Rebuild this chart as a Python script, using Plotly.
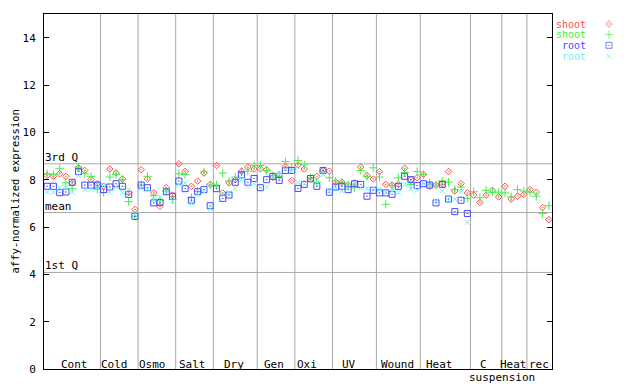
import plotly.graph_objects as go

# ---------------- data ----------------
group_labels = ["Cont", "Cold", "Osmo", "Salt", "Dry", "Gen", "Oxi", "UV",
                "Wound", "Heat", "C", "Heat", "rec"]
group_sizes = [9, 6, 6, 6, 7, 6, 6, 7, 7, 8, 5, 4, 4]

shoot_rep1 = [8.18, 8.14, 8.25, 8.14, 7.86, 8.50, 8.39, 8.00, 7.83,
              7.72, 8.45, 8.28, 8.03, 7.45, 6.74,
              8.42, 8.03, 7.44, 6.87, 7.66, 7.35,
              8.67, 8.35, 7.72, 7.94, 8.28, 7.80,
              8.60, 7.44, 7.86, 8.00, 8.36, 8.53, 8.45,
              8.46, 8.42, 8.10, 8.20, 8.56, 7.97,
              8.62, 8.45, 8.00, 8.14, 8.39, 8.36,
              7.89, 7.89, 7.77, 7.86, 8.53, 8.17, 8.03,
              8.34, 7.80, 7.77, 7.80, 8.48, 8.00, 8.08,
              8.22, 7.72, 7.77, 7.83, 8.34, 7.52, 7.83, 7.44,
              7.35, 7.04, 7.35, 7.55, 7.27,
              7.72, 7.18, 7.30, 7.38,
              7.58, 7.47, 6.82, 6.31]
shoot_rep2 = [8.25, 8.22, 8.46, 7.87, 7.62, 8.53, 8.25, 8.14, 7.60,
              7.46, 8.11, 8.22, 8.00, 7.07, 6.45,
              7.77, 8.14, 7.32, 7.13, 7.52, 7.16,
              8.25, 8.22, 7.24, 7.50, 8.33, 7.77,
              7.77, 8.28, 7.94, 8.11, 8.34, 8.36, 8.59,
              8.60, 8.39, 8.17, 8.14, 8.76, 8.50,
              8.81, 8.62, 8.08, 7.89, 8.36, 8.08,
              7.94, 7.89, 7.77, 7.66, 8.39, 8.14, 8.50,
              8.11, 6.96, 7.75, 8.08, 8.31, 7.80, 8.34,
              8.22, 7.86, 7.77, 7.94, 7.89, 7.58, 7.69, 7.21,
              7.49, 7.24, 7.55, 7.47, 7.47,
              7.44, 7.27, 7.58, 7.52,
              7.47, 7.30, 6.57, 6.90]
root_rep1 = [7.72, 7.72, 7.45, 7.48, 7.89, 8.34, 7.77, 7.77, 7.77,
             7.58, 7.69, 7.83, 7.72, 7.38, 6.45,
             7.77, 7.66, 7.02, 7.04, 7.49, 7.30,
             7.94, 7.62, 7.13, 7.49, 7.58, 6.90,
             7.62, 7.21, 7.35, 7.89, 8.20, 7.89, 8.05,
             7.66, 8.00, 8.14, 7.97, 8.39, 8.39,
             7.63, 7.80, 8.05, 7.72, 8.39, 7.47,
             7.69, 7.72, 7.58, 7.83, 7.80, 7.30, 7.55,
             7.44, 7.44, 7.38, 7.72, 8.14, 8.00, 7.75,
             7.83, 7.77, 7.02, 7.80, 7.18, 6.65, 7.13, 6.57] + [None] * 13
root_rep2 = [7.48, 7.48, 7.66, 7.66, 7.48, 8.17, 7.58, 7.60, 7.66,
             7.75, 7.46, 7.69, 7.46, 7.58, 6.54,
             7.63, 7.60, 7.16, 7.27, 7.49, 7.10,
             7.80, 7.85, 6.99, 7.35, 7.49, 6.78,
             7.75, 7.38, 7.44, 7.63, 8.00, 7.72, 7.83,
             7.66, 7.69, 8.14, 8.25, 8.45, 8.36,
             7.89, 7.83, 7.94, 7.89, 8.22, 7.52,
             7.66, 7.52, 7.66, 7.86, 7.66, 7.63, 7.63,
             7.58, 7.46, 7.52, 7.46, 7.80, 7.61, 7.55,
             7.86, 7.77, 7.10, 7.52, 7.13, 7.18, 7.49, 6.20] + [None] * 13

q1_value, mean_value, q3_value = 4.08, 6.61, 8.67
y_ticks = [0, 2, 4, 6, 8, 10, 12, 14]
legend_names = ["shoot", "shoot", "root", "root"]

# ---------------- styles / layout geometry (screen pixels) ----------------
FONT = "DejaVu Sans Mono"
RED, GREEN, BLUE, CYAN = "#ff4c4c", "#44ee44", "#4848ff", "#66f6f6"
GRID = "#a8a8a8"
BODY = 8                      # default page body margin
W, H = 640 - BODY, 384 - BODY
PLOT_L, PLOT_R, PLOT_T, PLOT_B = 44, 552, 14, 369     # screen px of main plot box
AREA_R = 628                                          # right end incl. legend column
ML = PLOT_L - BODY
MT = PLOT_T - BODY
MR = W - (AREA_R - BODY)
MB = H - (PLOT_B - BODY)
AW = AREA_R - PLOT_L
PH = PLOT_B - PLOT_T
label_shift_px = [2, -5, -4, -2, -1, -2, -7, -5, -1, -6, -3, -1, 0]

n = sum(group_sizes)
xs = list(range(n))
XR = [-0.5, n - 0.5]
YR = [0, 15]


def px_to_paper(px):
    return (px - PLOT_L) / AW


def py_to_paper(py):
    return (PLOT_B - py) / PH


def py_to_y(py):
    return YR[0] + py_to_paper(py) * (YR[1] - YR[0])


main_dom = [0, px_to_paper(PLOT_R)]
leg_dom = [px_to_paper(600), px_to_paper(618)]

fig = go.Figure()
series = [
    (shoot_rep1, RED, "diamond-open-dot", 5),
    (shoot_rep2, GREEN, "cross-thin-open", 6),
    (root_rep1, BLUE, "square-open-dot", 6),
    (root_rep2, CYAN, "x-thin-open", 5),
]
for vals, col, sym, sz in series:
    fig.add_trace(go.Scatter(
        x=xs, y=vals, mode="markers", showlegend=False,
        marker=dict(symbol=sym, size=sz, color=col, line=dict(width=1, color=col)),
        hoverinfo="skip"))

# legend (text, then marker in a small column right of the plot)
legend_rows_py = [24, 34.7, 45.3, 56.4]
colors = [RED, GREEN, BLUE, CYAN]
fig.add_trace(go.Scatter(
    x=[0.5] * 4, y=[py_to_y(p) for p in legend_rows_py], xaxis="x2", yaxis="y2",
    mode="markers", showlegend=False, hoverinfo="skip",
    marker=dict(symbol=[s[2] for s in series], size=[s[3] for s in series],
                color=colors, line=dict(width=1, color=colors))))

shapes = []
annotations = []
start = -0.5
for i, (lab, sz) in enumerate(zip(group_labels, group_sizes)):
    end = start + sz
    if i < len(group_sizes) - 1:
        shapes.append(dict(type="line", xref="x", yref="paper", x0=end, x1=end,
                           y0=0, y1=1, line=dict(color=GRID, width=1), layer="below"))
    annotations.append(dict(x=(start + end) / 2, y=0.2, xref="x", yref="y",
                            text=lab, showarrow=False, xanchor="center", yanchor="middle",
                            xshift=label_shift_px[i],
                            font=dict(family=FONT, size=11, color="black")))
    start = end
annotations.append(dict(x=px_to_paper(502), y=py_to_paper(377), xref="paper",
                        yref="paper", text="suspension", showarrow=False,
                        xanchor="center", yanchor="middle",
                        font=dict(family=FONT, size=11, color="black")))

for val, lab in [(q3_value, "3rd Q"), (mean_value, "mean"), (q1_value, "1st Q")]:
    shapes.append(dict(type="line", xref="x domain", yref="y", x0=0, x1=1, y0=val, y1=val,
                       line=dict(color=GRID, width=1), layer="below"))
    annotations.append(dict(x=0, y=val, xref="paper", yref="y", text=lab,
                            showarrow=False, xanchor="left", yanchor="bottom",
                            xshift=-1, yshift=-2,
                            font=dict(family=FONT, size=11, color="black")))

annotations.append(dict(x=px_to_paper(14), y=0.5, xref="paper", yref="paper",
                        text="affy-normalized expression", textangle=-90,
                        showarrow=False, xanchor="center", yanchor="middle",
                        borderpad=0,
                        font=dict(family=FONT, size=10.5, color="black")))

for name, col, py in zip(legend_names, colors, legend_rows_py):
    annotations.append(dict(x=px_to_paper(587), y=py_to_y(py), xref="paper", yref="y",
                            text=name, showarrow=False, xanchor="right",
                            yanchor="middle", borderpad=0,
                            font=dict(family=FONT, size=10, color=col)))

fig.update_layout(
    width=W, height=H,
    margin=dict(l=ML, r=MR, t=MT, b=MB, pad=0, autoexpand=False),
    paper_bgcolor="white", plot_bgcolor="white",
    shapes=shapes, annotations=annotations,
    xaxis=dict(domain=main_dom, range=XR, showgrid=False, zeroline=False,
               showticklabels=False, ticks="", showline=True, linecolor="black",
               linewidth=1, mirror=True, fixedrange=True, automargin=False),
    yaxis=dict(range=YR, tickvals=y_ticks, ticks="inside", ticklen=5,
               tickcolor="black", showgrid=False, zeroline=False, showline=True,
               linecolor="black", linewidth=1, mirror="ticks",
               ticklabelstandoff=5, automargin=False,
               tickfont=dict(family=FONT, size=11, color="black"), fixedrange=True),
    xaxis2=dict(domain=leg_dom, range=[0, 1], visible=False, fixedrange=True),
    yaxis2=dict(anchor="x2", range=YR, visible=False, fixedrange=True),
)

fig.write_html("out.html")
